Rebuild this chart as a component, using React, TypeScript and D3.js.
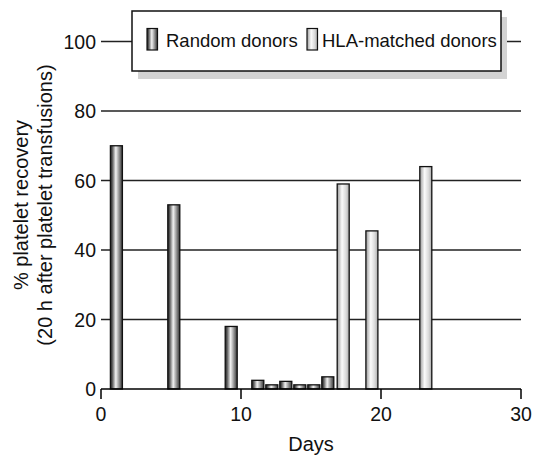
import React from "react";
import * as d3 from "d3";

const randomDays = [1.1, 5.2, 9.3, 11.2, 12.2, 13.2, 14.2, 15.2, 16.2];
const randomValues = [70, 53, 18, 2.5, 1.2, 2.2, 1.2, 1.2, 3.5];
const hlaDays = [17.3, 19.35, 23.2];
const hlaValues = [59, 45.5, 64];
const xTicks = [0, 10, 20, 30];
const yTicks = [0, 20, 40, 60, 80, 100];
const legendLabels = ["Random donors", "HLA-matched donors"];

const W = 534;
const H = 455;
const FONT = "'Liberation Sans', Arial, Helvetica, sans-serif";

export default function App() {
  const x = d3.scaleLinear().domain([0, 30]).range([101, 521]);
  const y = d3.scaleLinear().domain([0, 100]).range([389, 41.5]);
  const barW = 12;

  const randomData = randomDays.map((d, i) => ({ d, v: randomValues[i] }));
  const hlaData = hlaDays.map((d, i) => ({ d, v: hlaValues[i] }));

  return (
    <svg
      width={W}
      height={H}
      style={{ position: "absolute", left: 0, top: 0, background: "#fff" }}
      fontFamily={FONT}
    >
      <defs>
        <linearGradient id="gRand" x1="0" x2="1" y1="0" y2="0">
          <stop offset="0%" stopColor="#222" />
          <stop offset="15%" stopColor="#555" />
          <stop offset="45%" stopColor="#f2f2f2" />
          <stop offset="75%" stopColor="#8a8a8a" />
          <stop offset="100%" stopColor="#333" />
        </linearGradient>
        <linearGradient id="gHla" x1="0" x2="1" y1="0" y2="0">
          <stop offset="0%" stopColor="#9a9a9a" />
          <stop offset="40%" stopColor="#fbfbfb" />
          <stop offset="75%" stopColor="#d8d8d8" />
          <stop offset="100%" stopColor="#a8a8a8" />
        </linearGradient>
      </defs>
      <rect x={0} y={0} width={W} height={H} fill="#fff" />

      {/* gridlines */}
      {yTicks.filter((t) => t > 0).map((t) => (
        <line
          key={"g" + t}
          x1={x(0)}
          x2={x(30)}
          y1={y(t)}
          y2={y(t)}
          stroke="#222"
          strokeWidth={1.5}
        />
      ))}

      {/* y tick labels */}
      {yTicks.map((t) => (
        <text
          key={"yl" + t}
          x={96}
          y={y(t) + 7}
          textAnchor="end"
          fontSize={19.5}
          fill="#111"
        >
          {t}
        </text>
      ))}

      {/* bars */}
      {randomData.map((r, i) => (
        <rect
          key={"r" + i}
          x={x(r.d) - barW / 2}
          y={y(r.v)}
          width={barW}
          height={y(0) - y(r.v)}
          fill="url(#gRand)"
          stroke="#111"
          strokeWidth={1.3}
        />
      ))}
      {hlaData.map((r, i) => (
        <rect
          key={"h" + i}
          x={x(r.d) - barW / 2}
          y={y(r.v)}
          width={barW}
          height={y(0) - y(r.v)}
          fill="url(#gHla)"
          stroke="#111"
          strokeWidth={1.3}
        />
      ))}

      {/* x axis */}
      <line x1={x(0)} x2={x(30)} y1={y(0)} y2={y(0)} stroke="#000" strokeWidth={1.5} />
      {xTicks.map((t) => (
        <g key={"xt" + t}>
          <line x1={x(t)} x2={x(t)} y1={y(0)} y2={y(0) + 10} stroke="#000" strokeWidth={1.5} />
          <text x={x(t)} y={421} textAnchor="middle" fontSize={19.5} fill="#111">
            {t}
          </text>
        </g>
      ))}
      <text x={x(15)} y={451} textAnchor="middle" fontSize={20} fill="#111">
        Days
      </text>

      {/* y axis title */}
      <g transform="translate(28,205) rotate(-90)">
        <text x={0} y={0} textAnchor="middle" fontSize={20} fill="#111">
          % platelet recovery
        </text>
        <text x={0} y={24} textAnchor="middle" fontSize={20} fill="#111">
          (20 h after platelet transfusions)
        </text>
      </g>

      {/* legend */}
      <rect x={138} y={17} width={369} height={62} fill="#d3d3d3" />
      <rect x={132} y={11} width={369} height={60} fill="#fff" stroke="#111" strokeWidth={1.5} />
      <rect x={147} y={28.5} width={10.5} height={21.5} fill="url(#gRand)" stroke="#111" strokeWidth={1.2} />
      <text x={166} y={47} fontSize={18.5} fill="#111">
        {legendLabels[0]}
      </text>
      <rect x={307} y={28.5} width={10.5} height={21.5} fill="url(#gHla)" stroke="#111" strokeWidth={1.2} />
      <text x={322} y={47} fontSize={18.5} fill="#111">
        {legendLabels[1]}
      </text>
    </svg>
  );
}
